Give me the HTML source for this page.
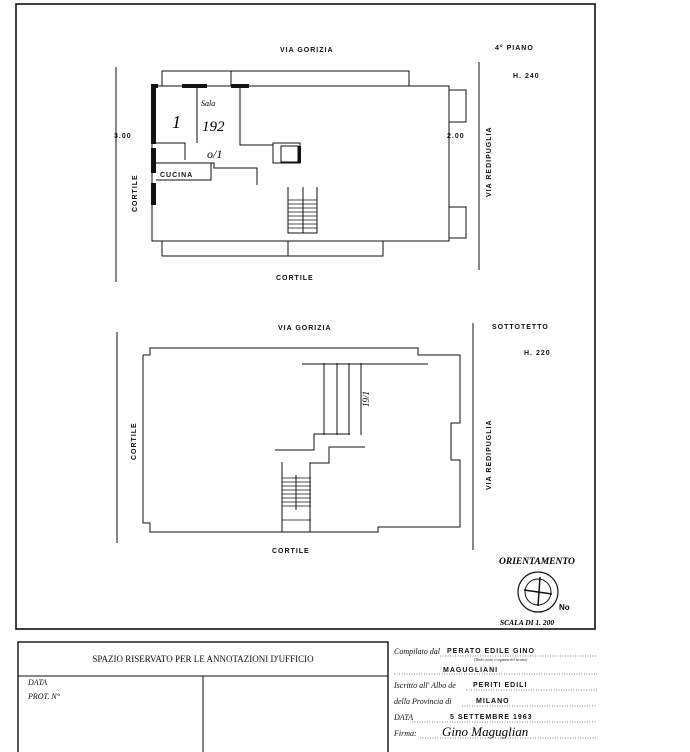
<!DOCTYPE html>
<html><head><meta charset="utf-8"><style>
html,body{margin:0;padding:0;background:#fff;}
svg{display:block;}
.h{font-family:"Liberation Sans",sans-serif;font-weight:bold;font-size:7px;fill:#111;letter-spacing:1px;}
.s{font-family:"Liberation Serif",serif;font-size:9px;fill:#111;}
.i{font-family:"Liberation Serif",serif;font-style:italic;font-size:8px;fill:#111;}
</style></head><body>
<svg width="690" height="752" viewBox="0 0 690 752" xmlns="http://www.w3.org/2000/svg">
<g fill="none" stroke="#111" stroke-width="1">
<rect x="16" y="4" width="579" height="625" stroke-width="1.6"/>
<line x1="116" y1="67" x2="116" y2="282"/>
<line x1="479" y1="62" x2="479" y2="270"/>
<polyline points="162,86 162,71 409,71 409,86"/>
<line x1="231" y1="71" x2="231" y2="86"/>
<polyline points="152,86 449,86 449,241 152,241 152,86"/>
<polyline points="449,90 466,90 466,122 449,122"/>
<polyline points="449,207 466,207 466,238 449,238"/>
<polyline points="162,241 162,256 383,256 383,241"/>
<line x1="288" y1="241" x2="288" y2="256"/>
<line x1="197" y1="86" x2="197" y2="143"/>
<polyline points="240,86 240,145 273,145"/>
<rect x="273" y="143" width="27" height="20"/>
<rect x="281" y="146" width="17" height="16"/>
<polyline points="156,143 185,143 185,160"/>
<polyline points="156,163 211,163 211,180 156,180"/>
<polyline points="211,163 214,163 214,168 257,168 257,185"/>
<polyline points="288,187 288,233 317,233 317,187"/>
<line x1="303" y1="187" x2="303" y2="233"/>
<g stroke-width="0.8">
<line x1="288" y1="200" x2="317" y2="200"/><line x1="288" y1="204" x2="317" y2="204"/>
<line x1="288" y1="208" x2="317" y2="208"/><line x1="288" y1="212" x2="317" y2="212"/>
<line x1="288" y1="216" x2="317" y2="216"/><line x1="288" y1="220" x2="317" y2="220"/>
<line x1="288" y1="224" x2="317" y2="224"/><line x1="288" y1="228" x2="317" y2="228"/>
</g>
<line x1="117" y1="332" x2="117" y2="543"/>
<line x1="473" y1="323" x2="473" y2="550"/>
<polyline points="143,355 150,355 150,348 418,348 418,355 460,355 460,423 451,423 451,460 460,460 460,527 378,527 378,532 150,532 150,523 143,523 143,355"/>
<line x1="302" y1="364" x2="428" y2="364"/>
<line x1="324" y1="363" x2="324" y2="435"/>
<line x1="337" y1="363" x2="337" y2="435"/>
<line x1="349" y1="363" x2="349" y2="435"/>
<line x1="361" y1="363" x2="361" y2="435"/>
<polyline points="350,434 314,434 314,450 275,450"/>
<polyline points="365,447 329,447 329,463 310,463 310,532"/>
<line x1="282" y1="462" x2="282" y2="532"/>
<line x1="296" y1="475" x2="296" y2="510"/>
<g stroke-width="0.8">
<line x1="282" y1="478" x2="311" y2="478"/><line x1="282" y1="482" x2="311" y2="482"/>
<line x1="282" y1="486" x2="311" y2="486"/><line x1="282" y1="490" x2="311" y2="490"/>
<line x1="282" y1="494" x2="311" y2="494"/><line x1="282" y1="498" x2="311" y2="498"/>
<line x1="282" y1="502" x2="311" y2="502"/><line x1="282" y1="506" x2="311" y2="506"/>
<line x1="282" y1="520" x2="311" y2="520"/>
</g>
<circle cx="538" cy="592" r="20" stroke-width="1.2"/>
<circle cx="538" cy="592" r="13"/>
<line x1="540" y1="577" x2="538" y2="606" stroke-width="1.5"/>
<line x1="524" y1="590" x2="552" y2="594" stroke-width="1.5"/>
<rect x="18" y="642" width="370" height="115" stroke-width="1.4"/>
<line x1="18" y1="676" x2="388" y2="676"/>
<line x1="203" y1="676" x2="203" y2="752"/>
<g stroke-dasharray="1,1.5" stroke-width="0.6">
<line x1="440" y1="656" x2="597" y2="656"/>
<line x1="394" y1="674" x2="597" y2="674"/>
<line x1="466" y1="690" x2="597" y2="690"/>
<line x1="462" y1="706" x2="597" y2="706"/>
<line x1="412" y1="722" x2="597" y2="722"/>
<line x1="420" y1="738" x2="597" y2="738"/>
</g>
</g>
<g fill="#111">
<rect x="151" y="84" width="5" height="60"/>
<rect x="151" y="148" width="5" height="25"/>
<rect x="151" y="183" width="5" height="22"/>
<rect x="151" y="84" width="7" height="4"/>
<rect x="182" y="84" width="25" height="4"/>
<rect x="231" y="84" width="18" height="4"/>
<rect x="298" y="146" width="3" height="17"/>
</g>
<text class="h" x="280" y="52">VIA GORIZIA</text>
<text class="h" x="495" y="50" font-size="8">4° PIANO</text>
<text class="h" x="513" y="78" font-size="9">H. 240</text>
<text class="h" x="114" y="138">3.00</text>
<text class="h" x="447" y="138">2.00</text>
<text class="h" x="491" y="197" transform="rotate(-90 491 197)">VIA REDIPUGLIA</text>
<text class="h" x="137" y="212" transform="rotate(-90 137 212)">CORTILE</text>
<text class="h" x="276" y="280">CORTILE</text>
<text class="h" x="160" y="177" font-size="6">CUCINA</text>
<text x="172" y="128" font-family="Liberation Serif,serif" font-size="18" font-style="italic">1</text>
<text x="201" y="106" font-family="Liberation Serif,serif" font-size="8" font-style="italic">Sala</text>
<text x="202" y="131" font-family="Liberation Serif,serif" font-size="15" font-style="italic">192</text>
<text x="207" y="158" font-family="Liberation Serif,serif" font-size="12" font-style="italic">o/1</text>
<text class="h" x="278" y="330">VIA GORIZIA</text>
<text class="h" x="492" y="329">SOTTOTETTO</text>
<text class="h" x="524" y="355" font-size="9">H. 220</text>
<text class="h" x="136" y="460" transform="rotate(-90 136 460)">CORTILE</text>
<text class="h" x="491" y="490" transform="rotate(-90 491 490)">VIA REDIPUGLIA</text>
<text class="h" x="272" y="553">CORTILE</text>
<text x="350" y="412" font-family="Liberation Serif,serif" font-size="9" font-style="italic" transform="rotate(-90 357 400)">19/1</text>
<text x="499" y="564" font-family="Liberation Serif,serif" font-weight="bold" font-style="italic" font-size="9.5">ORIENTAMENTO</text>
<text x="559" y="610" font-family="Liberation Sans,sans-serif" font-weight="bold" font-size="8">No</text>
<text x="500" y="625" font-family="Liberation Serif,serif" font-weight="bold" font-style="italic" font-size="7.5">SCALA DI 1. 200</text>
<text class="s" x="203" y="662" text-anchor="middle" font-size="9.5">SPAZIO RISERVATO PER LE ANNOTAZIONI D'UFFICIO</text>
<text class="i" x="28" y="685" font-size="7">DATA</text>
<text class="i" x="28" y="699" font-size="7">PROT. N°</text>
<text class="i" x="394" y="654">Compilato dal</text>
<text class="h" x="447" y="653" font-size="7">PERATO  EDILE  GINO</text>
<text class="i" transform="translate(474 661) scale(0.45)" x="0" y="0" font-size="8">(Titolo, nome e cognome del tecnico)</text>
<text class="h" x="443" y="672" font-size="7">MAGUGLIANI</text>
<text class="i" x="394" y="688">Iscritto all' Albo de</text>
<text class="h" x="473" y="687" font-size="7">PERITI EDILI</text>
<text class="i" x="394" y="704">della Provincia di</text>
<text class="h" x="476" y="703" font-size="7">MILANO</text>
<text class="i" x="394" y="720" font-size="5">DATA</text>
<text class="h" x="450" y="719" font-size="7">5 SETTEMBRE 1963</text>
<text class="i" x="394" y="736" font-size="7">Firma:</text>
<text x="442" y="736" font-family="Liberation Serif,serif" font-style="italic" font-size="13">Gino Maguglian</text>
</svg>
</body></html>
